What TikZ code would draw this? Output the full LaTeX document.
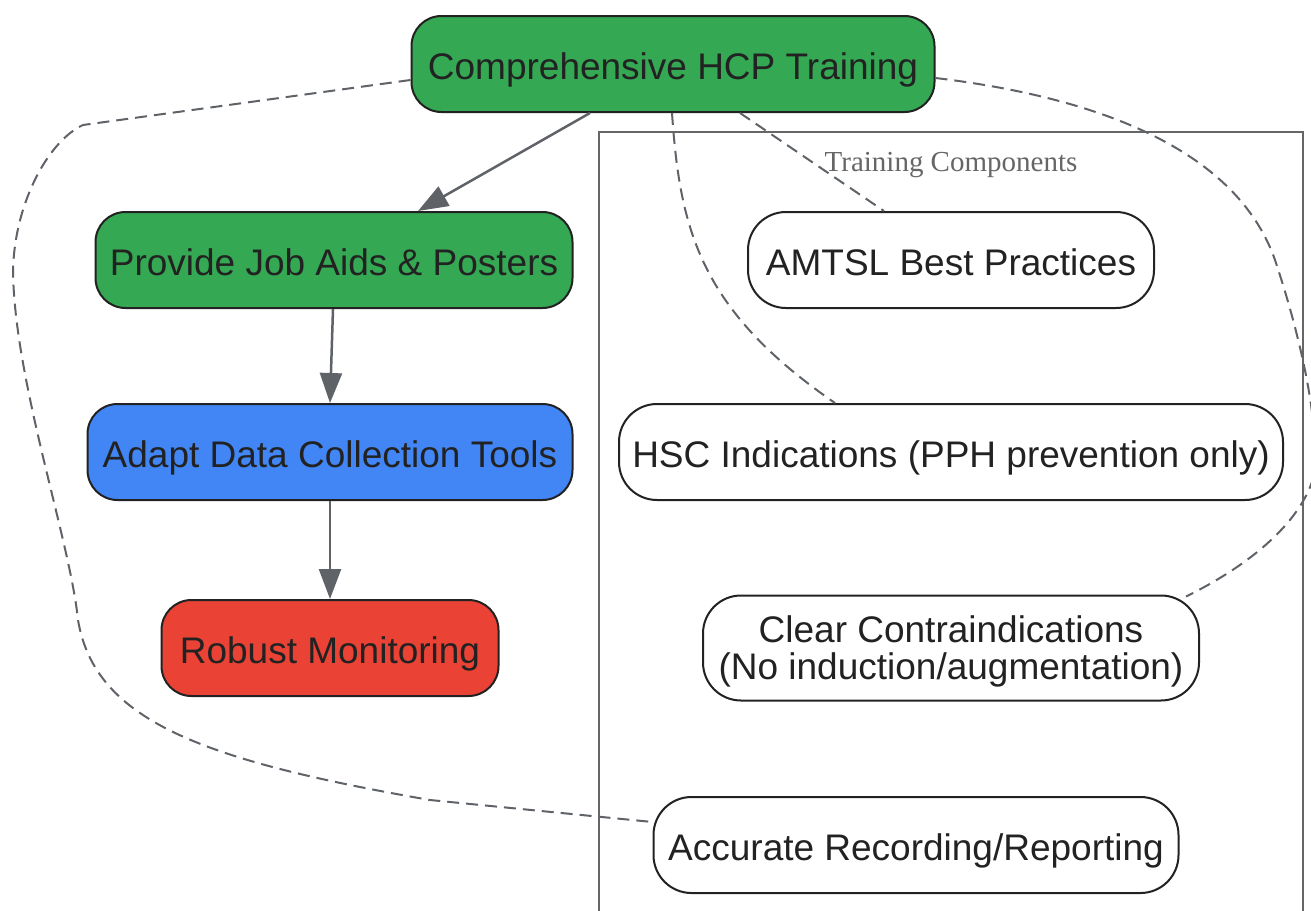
\documentclass[tikz,border=0pt]{standalone}
\usepackage{fontspec}
\setmainfont{Liberation Sans}
\newfontfamily\clusterfont{Liberation Serif}
\usetikzlibrary{arrows.meta,calc}
\definecolor{ggreen}{HTML}{34A853}
\definecolor{gblue}{HTML}{4285F4}
\definecolor{gred}{HTML}{EA4335}
\definecolor{txtc}{HTML}{222222}
\definecolor{edgec}{HTML}{5F6368}
\definecolor{clc}{HTML}{666666}
\tikzset{
  box/.style={draw=txtc, line width=2pt, rounded corners=30pt, inner sep=0pt,
    text=txtc, font=\fontsize{37}{37}\selectfont, align=center, minimum height=96pt,
    text height=36pt, text depth=6pt},
  pill/.style={box, fill=white, rounded corners=38pt},
  flow/.style={draw=edgec, line width=2.5pt, -{Triangle[length=30pt,width=22pt]}},
  link/.style={draw=edgec, line width=2pt, dash pattern=on 12pt off 7pt}
}
\begin{document}
\begin{tikzpicture}[x=1pt,y=-1pt]
\useasboundingbox (0,0) rectangle (1311,910);
\clip (0,0) rectangle (1311,910);
\fill[white] (0,0) rectangle (1311,910);
% cluster
\draw[clc, line width=2.5pt] (599,132) rectangle (1303,940);
\node[text=clc, font=\clusterfont\fontsize{29}{33}\selectfont] (cl) at (951,165) {Training Components};
% nodes
\node[box, fill=ggreen, minimum width=523pt] (top) at (673,64) {Comprehensive HCP Training};
\node[box, fill=ggreen, minimum width=477pt] (provide) at (334,260) {Provide Job Aids \& Posters};
\node[box, fill=gblue, minimum width=485pt] (adapt) at (330,452) {Adapt Data Collection Tools};
\node[box, fill=gred, minimum width=337pt] (robust) at (330,648) {Robust Monitoring};
\node[pill, minimum width=406pt] (amtsl) at (951,260) {AMTSL Best Practices};
\node[pill, minimum width=664pt] (hsc) at (951,452) {HSC Indications (PPH prevention only)};
\node[pill, minimum width=496pt, minimum height=105pt, text height=68pt, text depth=6pt] (clear) at (951,648) {Clear Contraindications\\(No induction/augmentation)};
\node[pill, minimum width=525pt] (acc) at (916,845) {Accurate Recording/Reporting};
% solid arrows
\draw[flow] ([xshift=-83pt]top.south) -- ([xshift=84pt]provide.north);
\draw[flow] ([xshift=-1pt]provide.south) -- (adapt.north);
\draw[flow] (adapt.south) -- (robust.north);
% dashed links
\draw[link] ([xshift=67pt]top.south) -- ([xshift=-67pt]amtsl.north);
\draw[link] ([xshift=-1pt]top.south) .. controls (680,230) and (700,310) .. ([xshift=-116pt]hsc.north);
\draw[link] ([yshift=-14pt]top.east) .. controls (1120,100) and (1240,160) .. (1275,260)
   .. controls (1305,350) and (1322,440) .. (1312,482)
   .. controls (1295,530) and (1240,570) .. ([xshift=-14pt,yshift=-2pt]clear.north east);
\draw[link] ([yshift=-16pt]top.west) -- (83,125)
   .. controls (50,140) and (15,200) .. (13,270)
   .. controls (14,380) and (70,540) .. (78,620)
   .. controls (95,720) and (200,760) .. (430,800)
   -- ([yshift=23pt]acc.west);
\end{tikzpicture}
\end{document}
